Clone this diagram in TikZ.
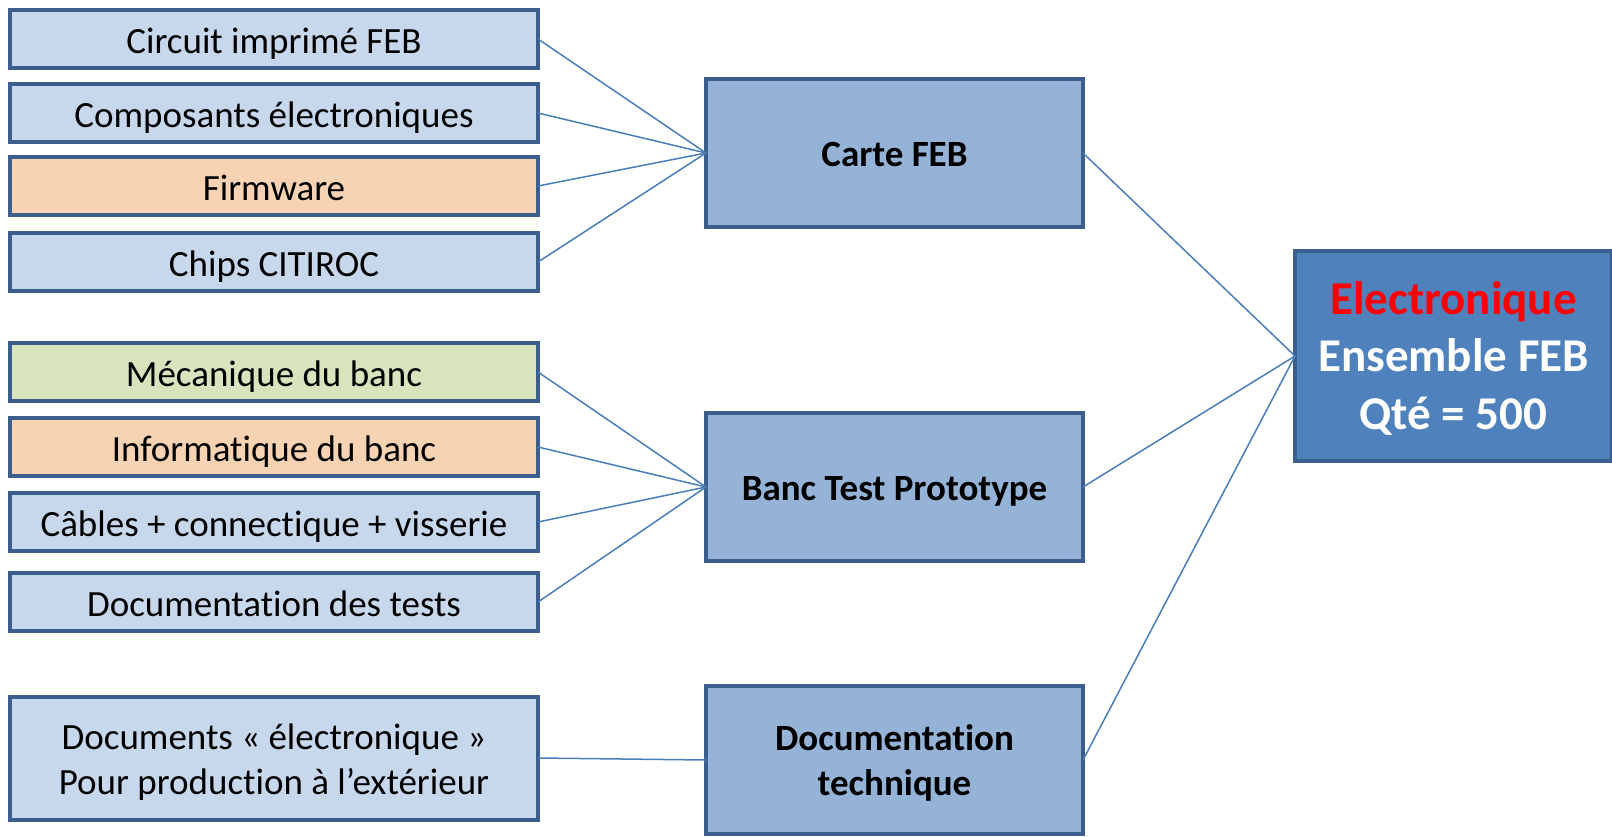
\documentclass[tikz,border=0pt]{standalone}
\usepackage{fontspec}
\setmainfont{Carlito}[Ligatures=NoCommon]
\definecolor{lblue}{HTML}{C8D8EC}
\definecolor{lorange}{HTML}{F7D3B4}
\definecolor{lgreen}{HTML}{D7E4BD}
\definecolor{mblue}{HTML}{95B3D7}
\definecolor{dblue}{HTML}{4F81BD}
\definecolor{bord}{HTML}{3B5E8C}
\definecolor{conn}{HTML}{4A7EBB}
\newcommand\dropt[2]{\raisebox{0pt}[\dimexpr\height+#1+#1\relax][\depth]{\begin{tabular}{@{}c@{}}#2\end{tabular}}}
\tikzset{
  box/.style={draw=bord, line width=4pt, rectangle, outer sep=0pt, inner sep=0pt, align=center, font=\fontsize{37}{45}\selectfont},
  leftbox/.style={box, fill=lblue, minimum width=528pt, minimum height=58pt},
  midbox/.style={box, fill=mblue, minimum width=377pt, minimum height=148pt, font=\fontsize{37}{45}\selectfont\bfseries},
  topbox/.style={box, fill=dblue, minimum width=317pt, minimum height=210pt, text=white, font=\fontsize{47}{57.5}\selectfont\bfseries},
  link/.style={draw=conn, line width=1.5pt}
}
\begin{document}
\begin{tikzpicture}[x=1pt,y=-1pt]
\useasboundingbox (0,0) rectangle (1612,836);
\node[leftbox] (a1) at (274,39) {\dropt{5pt}{Circuit imprimé FEB}};
\node[leftbox] (a2) at (274,113) {\dropt{5pt}{Composants électroniques}};
\node[leftbox, fill=lorange] (a3) at (274,186) {\dropt{5pt}{Firmware}};
\node[leftbox] (a4) at (274,262) {\dropt{5pt}{Chips CITIROC}};
\node[leftbox, fill=lgreen] (b1) at (274,372) {\dropt{5pt}{Mécanique du banc}};
\node[leftbox, fill=lorange] (b2) at (274,447) {\dropt{5pt}{Informatique du banc}};
\node[leftbox] (b3) at (274,522) {\dropt{5pt}{Câbles + connectique + visserie}};
\node[leftbox] (b4) at (274,602) {\dropt{5pt}{Documentation des tests}};
\node[leftbox, minimum height=123pt] (c1) at (274,758) {\dropt{5pt}{Documents « électronique »\\Pour production à l’extérieur}};
\node[midbox] (m1) at (894.5,153) {\dropt{4pt}{Carte FEB}};
\node[midbox] (m2) at (894.5,487) {\dropt{4pt}{Banc Test Prototype}};
\node[midbox] (m3) at (894.5,760) {\dropt{4pt}{Documentation\\technique}};
\node[topbox] (t) at (1453.5,356) {\dropt{4pt}{\textcolor{red}{Electronique}\\Ensemble FEB\\Qté = 500}};
\foreach \n in {a1,a2,a3,a4} \draw[link] (\n.east) -- (m1.west);
\foreach \n in {b1,b2,b3,b4} \draw[link] (\n.east) -- (m2.west);
\draw[link] (c1.east) -- (m3.west);
\foreach \n in {m1,m2,m3} \draw[link] (\n.east) -- (t.west);
\end{tikzpicture}
\end{document}
